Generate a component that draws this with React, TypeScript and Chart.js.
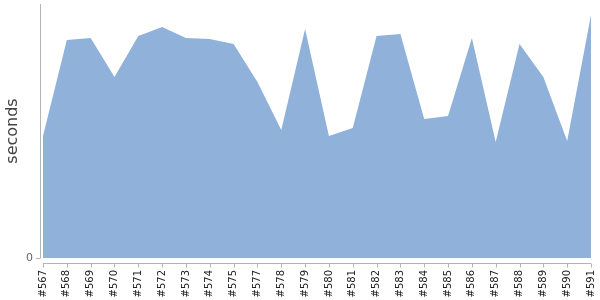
import React, { useEffect, useRef } from "react";
import { Chart, registerables } from "chart.js";

Chart.register(...registerables);

const categories = [
  "#567", "#568", "#569", "#570", "#571", "#572", "#573", "#574", "#575", "#577",
  "#578", "#579", "#580", "#581", "#582", "#583", "#584", "#585", "#586", "#587",
  "#588", "#589", "#590", "#591",
];
const seconds = [
  122, 218, 220, 181, 222, 231, 220, 219, 214, 176,
  128, 229, 122, 130, 222, 224, 139, 142, 220, 116,
  214, 181, 117, 243,
];
const yTickValues = [0];
const yMax = 254;

const axisPlugin = {
  id: "offsetAxes",
  afterDraw(chart: any) {
    const { ctx, chartArea, scales } = chart;
    ctx.save();
    ctx.strokeStyle = "#b4b4b4";
    ctx.lineWidth = 1;
    ctx.beginPath();
    ctx.moveTo(40.5, chartArea.top);
    ctx.lineTo(40.5, chartArea.bottom);
    ctx.stroke();
    for (const v of yTickValues) {
      const y = Math.round(scales.y.getPixelForValue(v)) + 0.5;
      ctx.beginPath();
      ctx.moveTo(36, y);
      ctx.lineTo(40.5, y);
      ctx.stroke();
    }
    const xy = chartArea.bottom + 5.5;
    ctx.beginPath();
    ctx.moveTo(chartArea.left, xy);
    ctx.lineTo(chartArea.right, xy);
    ctx.stroke();
    categories.forEach((_, i) => {
      const x = Math.round(scales.x.getPixelForValue(i)) + 0.5;
      ctx.beginPath();
      ctx.moveTo(x, xy);
      ctx.lineTo(x, xy + 4);
      ctx.stroke();
    });
    ctx.restore();
  },
};

export default function App() {
  const ref = useRef<HTMLCanvasElement | null>(null);
  useEffect(() => {
    document.body.style.margin = "0";
    const chart = new Chart(ref.current!, {
      type: "line",
      data: {
        labels: categories,
        datasets: [
          {
            data: seconds,
            fill: "origin",
            backgroundColor: "rgb(143,177,218)",
            borderColor: "rgb(143,177,218)",
            borderWidth: 0,
            pointRadius: 0,
            tension: 0,
          },
        ],
      },
      options: {
        animation: false,
        responsive: false,
        maintainAspectRatio: false,
        layout: { padding: { top: 4, right: 9, left: 0, bottom: 0 } },
        plugins: { legend: { display: false }, tooltip: { enabled: false } },
        scales: {
          x: {
            type: "category",
            offset: false,
            grid: { drawOnChartArea: false, color: "transparent", tickLength: 8 },
            border: { display: false },
            ticks: {
              autoSkip: false,
              maxRotation: 90,
              minRotation: 90,
              padding: 4,
              color: "#222",
              font: { family: "DejaVu Sans", size: 10 },
            },
            afterFit(scale: any) {
              scale.height = 42;
              scale.paddingLeft = 0;
              scale.paddingRight = 0;
              scale.paddingTop = 0;
              scale.paddingBottom = 0;
            },
          },
          y: {
            min: 0,
            max: yMax,
            grid: { drawOnChartArea: false, color: "transparent", tickLength: 6 },
            border: { display: false },
            afterBuildTicks(scale: any) {
              scale.ticks = yTickValues.map((v) => ({ value: v }));
            },
            ticks: {
              padding: 4,
              color: "#666",
              font: { family: "DejaVu Sans", size: 11 },
              callback: (v: any) => String(v),
            },
            title: {
              display: true,
              text: "seconds",
              color: "#444",
              font: { family: "DejaVu Sans", size: 16 },
              padding: { top: 3, bottom: 0 },
            },
            afterFit(scale: any) {
              scale.width = 43;
              scale.paddingLeft = 0;
              scale.paddingRight = 0;
              scale.paddingTop = 0;
              scale.paddingBottom = 0;
            },
          },
        },
      },
      plugins: [axisPlugin],
    });
    return () => chart.destroy();
  }, []);
  return (
    <div style={{ width: 600, height: 300 }}>
      <canvas ref={ref} width={600} height={300} style={{ display: "block" }} />
    </div>
  );
}
